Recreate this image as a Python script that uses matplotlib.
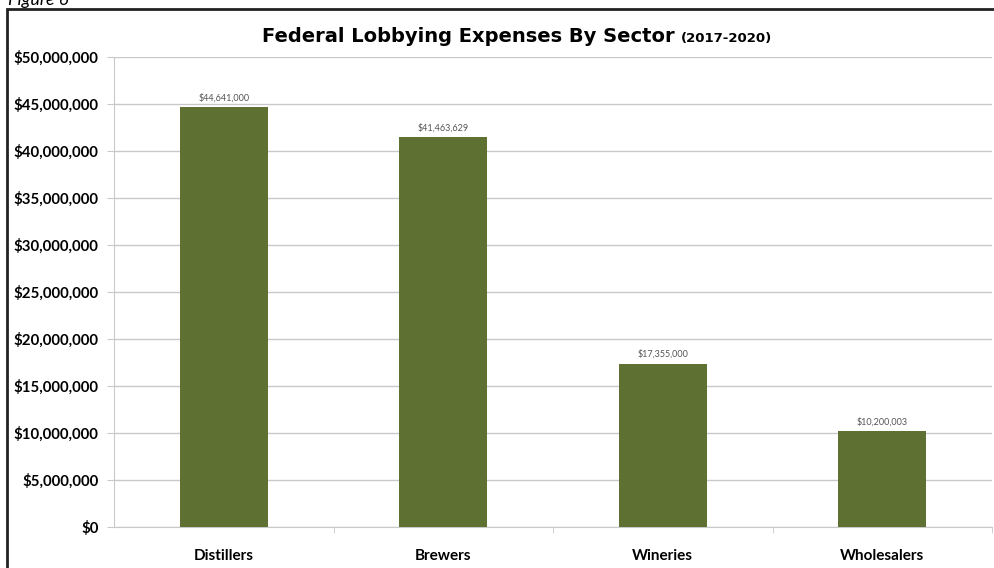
import matplotlib.pyplot as plt
from matplotlib.patches import Rectangle
from matplotlib.ticker import FuncFormatter, MultipleLocator

sectors = ["Distillers", "Brewers", "Wineries", "Wholesalers"]
expenses = [44641000, 41463629, 17355000, 10200003]

BAR_COLOR = "#5e7132"
GRID_COLOR = "#c9c9c9"

plt.rcParams["font.family"] = ["Lato", "DejaVu Sans"]

fig = plt.figure(figsize=(9.95, 5.68), dpi=100)
ax = fig.add_axes([0.1146, 0.0722, 0.8824, 0.8274])

x = range(len(sectors))
bars = ax.bar(x, expenses, width=0.4, color=BAR_COLOR, zorder=3)

for xi, val in zip(x, expenses):
    ax.text(xi, val + 500000, f"${val:,.0f}", ha="center", va="bottom",
            fontsize=6.5, color="#555555")

ax.set_xlim(-0.5, len(sectors) - 0.5)
ax.set_ylim(0, 50000000)
ax.yaxis.set_major_locator(MultipleLocator(5000000))
ax.yaxis.set_major_formatter(FuncFormatter(lambda v, _: f"${v:,.0f}"))
ax.grid(axis="y", color=GRID_COLOR, linewidth=1, zorder=0)

ax.set_xticks(list(x))
ax.set_xticklabels(sectors, fontsize=11, fontweight="bold")
ax.set_xticks([i + 0.5 for i in range(len(sectors))], minor=True)
ax.tick_params(axis="x", which="major", length=0, pad=16)
ax.tick_params(axis="x", which="minor", length=4, color=GRID_COLOR)
ax.tick_params(axis="y", length=5, color=GRID_COLOR, labelsize=10.8, pad=6)
for lbl in ax.get_yticklabels():
    lbl.set_fontweight("bold")

for side in ("top", "right"):
    ax.spines[side].set_visible(False)
for side in ("left", "bottom"):
    ax.spines[side].set_color(GRID_COLOR)

# title in two sizes: main text plus the smaller year range
title_font = ["DejaVu Sans"]
title = fig.text(0.263, 0.926, "Federal Lobbying Expenses By Sector ",
                 ha="left", va="baseline", fontsize=14, fontweight="bold",
                 family=title_font)
fig.canvas.draw()
bb = title.get_window_extent()
fig.text(bb.x1 / fig.bbox.width, 0.926, "(2017-2020)", ha="left",
         va="baseline", fontsize=9.5, fontweight="bold", family=title_font)

# outer frame, open on the right and bottom
fig.patches.append(Rectangle((0.007, -0.05), 1.1, 1.034, transform=fig.transFigure,
                             fill=False, edgecolor="#222222", linewidth=2))
fig.text(0.008, 0.991, "Figure 6", ha="left", va="baseline", fontsize=13,
         style="italic")

fig.savefig("out.png", dpi=100)
